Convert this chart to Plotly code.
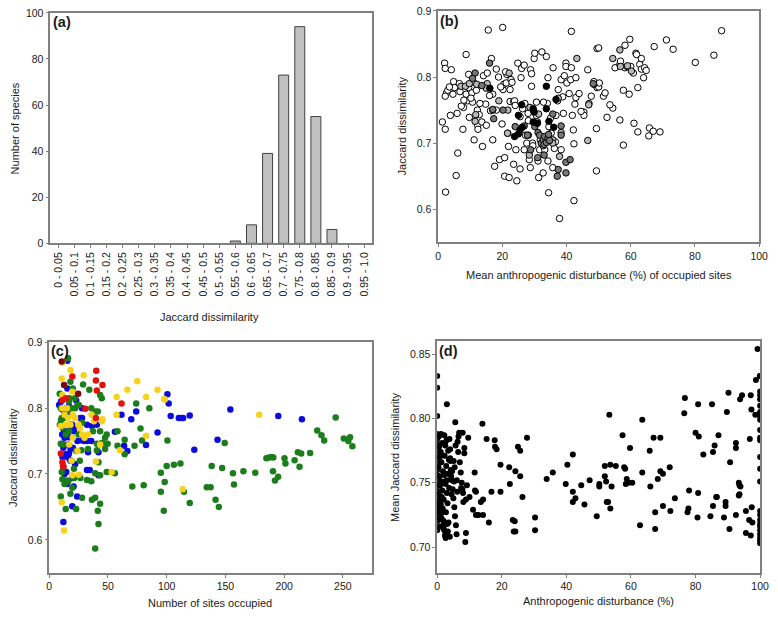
import plotly.graph_objects as go

W, H = 778, 617

# ---------------- Panel (a) data ----------------
bins = ["0 - 0.05", "0.05 - 0.1", "0.1 - 0.15", "0.15 - 0.2", "0.2 - 0.25", "0.25 - 0.3",
        "0.3 - 0.35", "0.35 - 0.4", "0.4 - 0.45", "0.45 - 0.5", "0.5 - 0.55", "0.55 - 0.6",
        "0.6 - 0.65", "0.65 - 0.7", "0.7 - 0.75", "0.75 - 0.8", "0.8 - 0.85", "0.85 - 0.9",
        "0.9 - 0.95", "0.95 - 1.0"]
counts = [0, 0, 0, 0, 0, 0, 0, 0, 0, 0, 0, 1, 8, 39, 73, 94, 55, 6, 0, 0]

# ---------------- Panel (b) data ----------------
b_open_x = [1.3, 2.3, 2.2, 2.0, 2.2, 2.6, 2.2, 4.1, 3.8, 4.8, 4.6, 5.1, 5.6, 5.9, 6.1, 6.6, 7.7, 7.9, 8.7, 8.7,
            9.2, 9.5, 9.5, 9.7, 10.5, 10.7, 11.2, 11.9, 12.2, 12.3, 12.4, 13.8, 13.6, 14.1, 14.8, 15.0, 15.6, 15.3,
            16.3, 16.6, 17.0, 17.0, 17.6, 18.1, 18.1, 19.1, 19.9, 20.1, 20.2, 20.4, 20.7, 20.7, 21.4, 21.2, 21.7,
            21.9, 22.1, 22.4, 22.4, 22.7, 23.5, 23.5, 23.8, 24.0, 24.2, 24.5, 24.8, 25.5, 25.5, 25.8, 26.0, 26.8,
            26.8, 27.0, 27.6, 28.1, 28.4, 28.7, 28.8, 29.1, 29.1, 29.4, 29.9, 30.1, 30.6, 30.6, 30.9, 31.1, 31.3,
            31.6, 32.3, 32.7, 33.7, 34.0, 34.2, 34.2, 34.4, 34.5, 35.2, 35.8, 35.7, 36.2, 36.7, 37.2, 37.4, 37.8,
            38.3, 38.3, 39.3, 39.8, 39.8, 40.1, 40.8, 41.3, 41.5, 41.5, 41.8, 42.1, 42.3, 42.3, 42.6, 42.9, 42.9,
            43.9, 45.4, 45.4, 46.6, 47.7, 48.5, 49.3, 49.3, 49.5, 49.5, 50.0, 50.0, 50.2, 51.5, 52.0, 52.6, 54.4,
            55.1, 56.6, 56.6, 56.8, 57.7, 57.7, 58.2, 58.2, 59.5, 59.7, 60.0, 61.0, 61.6, 61.8, 62.2, 62.2, 62.8,
            63.3, 63.3, 64.0, 64.3, 64.8, 65.8, 65.6, 67.0, 67.3, 69.1, 71.1, 73.2, 80.1, 85.9, 88.3,
            3.0, 6.8, 7.2, 10.2, 11.0, 13.0, 18.8, 19.5, 23.0, 26.3, 27.2, 28.0, 31.8, 32.8, 35.0, 36.5, 38.8,
            39.0, 44.5, 47.0, 53.5, 58.8, 60.8, 3.5, 8.0, 12.8, 16.0, 21.0, 29.5, 33.2]
b_open_y = [0.732, 0.626, 0.721, 0.821, 0.813, 0.776, 0.771, 0.811, 0.742, 0.793, 0.774, 0.784, 0.651, 0.745,
            0.685, 0.790, 0.721, 0.754, 0.834, 0.774, 0.764, 0.804, 0.784, 0.739, 0.776, 0.762, 0.705, 0.780,
            0.750, 0.727, 0.721, 0.695, 0.732, 0.802, 0.759, 0.727, 0.871, 0.806, 0.749, 0.828, 0.774, 0.705,
            0.665, 0.812, 0.750, 0.675, 0.729, 0.875, 0.781, 0.789, 0.650, 0.678, 0.804, 0.791, 0.715, 0.695,
            0.648, 0.763, 0.781, 0.796, 0.763, 0.668, 0.764, 0.757, 0.690, 0.643, 0.821, 0.740, 0.661, 0.799,
            0.813, 0.690, 0.818, 0.760, 0.700, 0.734, 0.675, 0.663, 0.811, 0.786, 0.805, 0.700, 0.828, 0.836,
            0.762, 0.742, 0.732, 0.673, 0.648, 0.690, 0.838, 0.655, 0.831, 0.760, 0.799, 0.673, 0.625, 0.725,
            0.715, 0.814, 0.663, 0.692, 0.742, 0.764, 0.781, 0.586, 0.690, 0.796, 0.802, 0.821, 0.816, 0.791,
            0.775, 0.796, 0.814, 0.869, 0.742, 0.720, 0.699, 0.613, 0.759, 0.769, 0.799, 0.775, 0.747, 0.742,
            0.811, 0.771, 0.793, 0.722, 0.658, 0.843, 0.784, 0.844, 0.785, 0.791, 0.771, 0.776, 0.739, 0.753,
            0.814, 0.735, 0.819, 0.824, 0.780, 0.697, 0.848, 0.814, 0.774, 0.857, 0.816, 0.730, 0.836, 0.834,
            0.717, 0.784, 0.819, 0.828, 0.812, 0.799, 0.814, 0.810, 0.723, 0.711, 0.718, 0.846, 0.717, 0.856,
            0.842, 0.822, 0.833, 0.870,
            0.780, 0.778, 0.756, 0.768, 0.792, 0.760, 0.800, 0.785, 0.792, 0.752, 0.712, 0.745, 0.705, 0.762,
            0.738, 0.702, 0.770, 0.745, 0.748, 0.760, 0.758, 0.816, 0.806, 0.785, 0.765, 0.743, 0.772, 0.808,
            0.696, 0.690]
b_light_x = [7.1, 8.5, 9.7, 12.0, 11.7, 11.5, 15.3, 15.0, 18.9, 17.0, 21.7, 22.1, 21.6, 28.6, 28.1, 28.4, 31.3,
             32.7, 37.8, 38.3, 37.4, 43.2, 46.6, 46.9, 48.5, 54.4, 56.6, 56.8, 59.0, 60.2, 35.7, 35.7]
b_light_y = [0.786, 0.786, 0.790, 0.789, 0.743, 0.733, 0.790, 0.783, 0.764, 0.750, 0.750, 0.806, 0.715, 0.754,
             0.712, 0.682, 0.744, 0.696, 0.680, 0.716, 0.768, 0.828, 0.704, 0.758, 0.789, 0.828, 0.841, 0.816,
             0.817, 0.809, 0.705, 0.700]
b_dark_x = [11.5, 10.7, 13.6, 16.0, 17.0, 17.3, 20.2, 24.0, 26.8, 27.8, 28.8, 30.1, 31.1, 31.6, 32.1, 32.7, 33.0,
            33.2, 33.7, 34.2, 34.4, 34.7, 33.0, 31.0, 35.7, 37.1, 37.4, 38.3, 39.8, 39.8, 41.1, 48.3, 38.3]
b_dark_y = [0.806, 0.798, 0.787, 0.821, 0.751, 0.737, 0.750, 0.725, 0.726, 0.712, 0.690, 0.725, 0.716, 0.712,
            0.700, 0.705, 0.698, 0.710, 0.701, 0.707, 0.713, 0.704, 0.682, 0.678, 0.744, 0.650, 0.660, 0.726,
            0.671, 0.655, 0.675, 0.790, 0.712]
b_black_x = [16.1, 26.0, 25.0, 25.5, 26.2, 23.8, 29.6, 29.9, 29.6, 30.9, 33.7, 33.7, 34.5, 36.0, 36.7, 25.0]
b_black_y = [0.783, 0.758, 0.742, 0.720, 0.724, 0.710, 0.752, 0.747, 0.732, 0.730, 0.786, 0.752, 0.733, 0.724,
             0.766, 0.714]

# ---------------- Panel (c) data ----------------
c_green_x = [16.0, 8.9, 9.8, 10.6, 9.0, 9.8, 10.6, 11.2, 9.8, 14.0, 16.2, 19.6, 21.2, 22.9, 26.5, 27.9, 32.1, 35.8,
             36.3, 39.1, 41.3, 41.9, 43.3, 39.1, 43.3, 41.9, 47.5, 49.7, 44.7, 47.5, 48.9, 43.3, 40.5, 40.5, 39.1,
             37.2, 35.8, 39.1, 41.3, 43.3, 44.7, 34.1, 28.8, 21.8, 25.1, 16.8, 16.8, 27.9, 27.4, 33.0, 48.9, 55.9,
             58.1, 58.1, 64.2, 64.2, 70.7, 72.6, 74.0, 77.7, 79.0, 80.4, 85.2,
             12.0, 13.0, 14.0, 15.0, 17.0, 18.0, 20.0, 22.0, 24.0, 14.0, 17.0, 12.0, 19.0, 23.0, 15.0, 12.0, 18.0,
             13.0, 26.0, 10.0, 11.5, 19.0, 21.0, 25.0,
             100.6, 149.4, 100.0, 106.1, 111.7, 95.0, 98.3, 95.0, 97.5, 114.7, 119.6, 134.1, 137.4, 138.3, 147.2,
             141.6, 144.4, 156.4, 157.3, 165.3, 175.4, 184.9, 187.2, 189.4, 190.8, 190.5, 192.2, 194.9, 200.3,
             201.1, 208.9, 211.7, 214.5, 213.1, 222.1, 243.9, 228.2, 231.8, 234.1, 250.8, 254.7, 256.1, 258.1]
c_green_y = [0.876, 0.822, 0.800, 0.785, 0.775, 0.746, 0.703, 0.692, 0.666, 0.647, 0.689, 0.679, 0.694, 0.647,
             0.694, 0.664, 0.691, 0.689, 0.661, 0.664, 0.644, 0.624, 0.655, 0.587, 0.698, 0.718, 0.738, 0.746,
             0.747, 0.755, 0.760, 0.765, 0.746, 0.736, 0.701, 0.765, 0.800, 0.795, 0.795, 0.820, 0.815, 0.828,
             0.836, 0.815, 0.805, 0.810, 0.800, 0.778, 0.736, 0.738, 0.703, 0.701, 0.765, 0.743, 0.752, 0.730,
             0.681, 0.743, 0.807, 0.769, 0.751, 0.683, 0.800,
             0.785, 0.790, 0.800, 0.795, 0.815, 0.840, 0.830, 0.800, 0.805, 0.760, 0.765, 0.745, 0.720, 0.735,
             0.690, 0.710, 0.670, 0.685, 0.720, 0.782, 0.770, 0.800, 0.708, 0.760,
             0.751, 0.747, 0.712, 0.714, 0.716, 0.702, 0.688, 0.673, 0.644, 0.673, 0.656, 0.680, 0.680, 0.712,
             0.709, 0.661, 0.650, 0.701, 0.684, 0.704, 0.702, 0.724, 0.725, 0.726, 0.725, 0.704, 0.690, 0.696,
             0.724, 0.716, 0.721, 0.733, 0.731, 0.711, 0.732, 0.786, 0.766, 0.759, 0.751, 0.754, 0.750, 0.756,
             0.742]
c_blue_x = [15.4, 15.4, 22.9, 8.4, 16.8, 27.9, 11.2, 12.6, 16.8, 18.2, 19.6, 20.9, 26.5, 27.9, 32.1, 36.3, 40.5,
            27.9, 32.1, 35.8, 33.0, 41.9, 44.7, 16.8, 11.2, 14.5, 19.6, 20.7, 23.7, 19.6, 12.0, 32.1, 34.4, 41.9,
            61.5, 74.0, 69.8, 55.9, 63.7, 66.5, 82.4, 92.2, 11.2,
            10.0, 12.0, 13.0, 15.0, 17.0, 18.0, 11.0, 13.0, 16.0, 19.0, 21.0, 14.0, 16.0, 12.0, 13.0, 15.0, 16.0,
            18.0, 20.0, 22.0, 24.0, 30.0,
            100.6, 101.7, 103.4, 110.3, 112.3, 114.0, 119.6, 154.2, 195.0, 215.1, 143.3, 123.5]
c_blue_y = [0.872, 0.830, 0.812, 0.805, 0.803, 0.800, 0.746, 0.763, 0.731, 0.738, 0.775, 0.768, 0.785, 0.785,
            0.775, 0.773, 0.775, 0.751, 0.750, 0.750, 0.733, 0.733, 0.746, 0.756, 0.726, 0.703, 0.694, 0.681,
            0.666, 0.651, 0.627, 0.706, 0.706, 0.698, 0.790, 0.795, 0.783, 0.764, 0.743, 0.735, 0.744, 0.763,
            0.798,
            0.810, 0.785, 0.790, 0.795, 0.790, 0.775, 0.760, 0.755, 0.765, 0.770, 0.765, 0.730, 0.745, 0.740,
            0.700, 0.685, 0.725, 0.720, 0.740, 0.715, 0.750, 0.750,
            0.821, 0.807, 0.788, 0.785, 0.785, 0.785, 0.789, 0.798, 0.788, 0.783, 0.752, 0.737]
c_yellow_x = [11.2, 18.2, 29.3, 10.6, 11.2, 19.6, 57.3, 74.9, 66.5, 82.4, 92.2, 97.8, 57.3, 60.1, 53.1, 82.4,
              43.3, 39.7, 9.8, 10.6, 12.6, 19.6, 25.1, 44.7, 45.3,
              11.0, 13.0, 14.0, 16.0, 18.0, 20.0, 22.0, 25.0, 26.0, 28.0, 30.0, 33.0, 36.0, 38.0, 17.0, 20.0,
              24.0, 19.0, 15.0, 98.3, 178.8, 113.7]
c_yellow_y = [0.869, 0.858, 0.850, 0.845, 0.820, 0.825, 0.817, 0.841, 0.828, 0.817, 0.828, 0.814, 0.790, 0.736,
              0.703, 0.758, 0.745, 0.719, 0.773, 0.657, 0.614, 0.698, 0.699, 0.780, 0.783,
              0.800, 0.790, 0.775, 0.785, 0.775, 0.790, 0.785, 0.775, 0.770, 0.760, 0.755, 0.760, 0.790, 0.780,
              0.745, 0.755, 0.735, 0.720, 0.800, 0.813, 0.790, 0.677]
c_red_x = [19.6, 30.7, 40.0, 39.7, 40.5, 45.3, 61.5, 39.7, 9.8, 11.2, 11.7, 12.0, 14.0, 11.0]
c_red_y = [0.848, 0.799, 0.857, 0.842, 0.827, 0.835, 0.807, 0.785, 0.731, 0.718, 0.713, 0.711, 0.815, 0.812]
c_dred_x = [10.6, 12.6, 24.6]
c_dred_y = [0.871, 0.835, 0.822]

# ---------------- Panel (d) data ----------------
d_x = [53.3, 63.5, 57.4, 67.0, 69.1, 59.7, 65.8, 42.0, 40.3, 53.6, 55.3, 51.9, 57.9, 58.2, 72.0, 35.8, 33.9, 63.5,
       69.1, 69.9, 39.8, 44.6, 47.2, 50.2, 50.2, 51.9, 52.3, 54.0, 58.7, 59.2, 58.4, 60.4, 66.0, 68.3, 42.0, 42.8,
       42.0, 45.6, 49.4, 52.5, 52.9, 53.6, 62.8, 67.5, 67.5, 69.9, 72.2, 73.6,
       76.7, 76.5, 80.8, 85.1, 90.2, 89.7, 94.4, 93.8, 97.1, 97.3, 98.5, 99.5, 98.7, 99.2, 99.9, 80.0, 81.0,
       87.1, 85.9, 85.4, 82.4, 90.7, 92.5, 92.5, 96.8, 78.0, 80.8, 86.4, 89.3, 89.3, 93.4, 93.6, 93.9, 93.6, 93.4,
       97.4, 95.6, 92.5, 88.8, 84.6, 80.6, 77.8, 77.5, 85.4, 86.6, 95.6, 97.1, 90.5, 96.6, 97.6,
       100, 100, 100, 100, 100, 100, 100, 100, 100, 100, 100, 100, 100, 100, 100, 100, 100, 100, 100, 100, 100,
       100, 100, 100,
       30.3, 30.3,
       0, 0, 0, 3.0, 5.6, 14.0, 7.9, 9.6, 6.6, 15.3, 17.8, 18.4, 17.9, 25.0, 25.7, 27.8, 19.6, 22.3, 24.2, 25.7,
       26.4, 22.5, 19.6, 16.8, 14.2, 13.5, 11.6, 11.7, 12.0, 11.1, 12.0, 12.8, 14.2, 16.0, 23.4, 24.0, 23.7,
       24.2, 8.7, 8.9, 8.4, 8.4, 8.9, 8.1,
       0, 0, 0, 0, 0, 0, 0, 0, 0, 0, 0, 0, 0, 0, 0, 0, 0, 0, 0, 0,
       0.5, 0.6, 0.8, 0.4, 0.7, 0.9, 0.5, 0.6, 0.3, 0.8, 1.0, 1.2, 1.5, 1.1, 1.3, 1.8, 1.4, 1.6, 2.0, 1.7,
       1.2, 1.9, 2.2, 2.5, 2.3, 2.8, 2.1, 2.6, 3.0, 3.2, 2.7, 3.5, 3.3, 3.8, 4.0, 3.6, 4.2, 4.5, 4.8, 5.0,
       5.3, 5.5, 5.8, 6.0, 6.3, 6.5, 7.0, 7.3, 7.6, 8.0, 1.0, 1.5, 2.0, 2.4, 2.9, 3.4, 4.1, 4.6, 5.2, 6.2,
       0.9, 1.3, 1.7, 2.2, 2.6, 3.1, 3.7, 4.3, 5.1, 5.7, 6.8, 7.4, 1.1, 1.6, 2.4, 3.3, 4.4, 0.7, 1.4, 2.9,
       4.0, 5.4, 6.1, 7.8, 9.2, 10.0, 3.9, 2.0, 1.0, 0.6]
d_y = [0.803, 0.799, 0.787, 0.785, 0.785, 0.777, 0.775, 0.772, 0.764, 0.764, 0.763, 0.763, 0.762, 0.761, 0.762,
       0.758, 0.753, 0.758, 0.759, 0.757, 0.749, 0.748, 0.752, 0.749, 0.747, 0.755, 0.751, 0.747, 0.753, 0.750,
       0.749, 0.750, 0.747, 0.753, 0.743, 0.738, 0.735, 0.733, 0.724, 0.735, 0.735, 0.730, 0.717, 0.727, 0.714,
       0.732, 0.728, 0.738,
       0.816, 0.804, 0.811, 0.811, 0.820, 0.805, 0.818, 0.815, 0.818, 0.807, 0.803, 0.803, 0.830, 0.854, 0.833,
       0.789, 0.786, 0.787, 0.779, 0.774, 0.772, 0.766, 0.781, 0.777, 0.784, 0.744, 0.742, 0.739, 0.735, 0.732,
       0.750, 0.748, 0.747, 0.741, 0.740, 0.731, 0.728, 0.725, 0.723, 0.724, 0.723, 0.730, 0.727, 0.732, 0.739,
       0.711, 0.709, 0.714, 0.721, 0.719,
       0.821, 0.818, 0.815, 0.810, 0.805, 0.799, 0.791, 0.785, 0.783, 0.770, 0.761, 0.751, 0.728, 0.725, 0.721,
       0.718, 0.716, 0.713, 0.710, 0.707, 0.705, 0.703, 0.833, 0.804,
       0.723, 0.713,
       0.833, 0.824, 0.802, 0.811, 0.797, 0.796, 0.789, 0.785, 0.786, 0.784, 0.783, 0.776, 0.778, 0.778, 0.775,
       0.785, 0.764, 0.762, 0.759, 0.755, 0.739, 0.749, 0.743, 0.743, 0.737, 0.735, 0.758, 0.744, 0.743, 0.729,
       0.725, 0.725, 0.725, 0.719, 0.721, 0.720, 0.712, 0.712, 0.704, 0.711, 0.777, 0.773, 0.737, 0.735,
       0.788, 0.784, 0.780, 0.776, 0.772, 0.768, 0.764, 0.760, 0.756, 0.752, 0.748, 0.744, 0.740, 0.736, 0.732,
       0.728, 0.724, 0.720, 0.716, 0.713,
       0.786, 0.778, 0.770, 0.762, 0.755, 0.748, 0.741, 0.735, 0.729, 0.722, 0.716, 0.788, 0.781, 0.774, 0.766,
       0.759, 0.751, 0.744, 0.737, 0.730, 0.723, 0.715, 0.787, 0.779, 0.771, 0.763, 0.756, 0.749, 0.742, 0.734,
       0.727, 0.719, 0.712, 0.784, 0.776, 0.768, 0.760, 0.752, 0.745, 0.738, 0.731, 0.724, 0.717, 0.710, 0.782,
       0.774, 0.766, 0.758, 0.750, 0.742, 0.735, 0.727, 0.720, 0.709, 0.783, 0.775, 0.767, 0.759, 0.751, 0.743,
       0.736, 0.728, 0.721, 0.713, 0.707, 0.718, 0.746, 0.755, 0.767, 0.779, 0.789, 0.746, 0.733, 0.727,
       0.780, 0.757, 0.741, 0.726, 0.739, 0.752, 0.769, 0.762, 0.752, 0.745, 0.748, 0.739, 0.708, 0.717, 0.723,
       0.731, 0.742, 0.757, 0.773, 0.744, 0.731, 0.787, 0.782, 0.722, 0.765, 0.758]

FONT = "Liberation Sans, Arial, sans-serif"
AXC = "#808080"
TXT = "#1a1a1a"

fig = go.Figure()

# empty classes draw no bar at all (as in the reference)
bar_heights = [c if c > 0 else None for c in counts]
fig.add_trace(go.Bar(x=bins, y=bar_heights, xaxis="x", yaxis="y",
                     marker=dict(color="#c0c0c0", line=dict(color="#404040", width=1))))

def sc(x, y, xa, ya, fill, line="#000000", lw=0.0, size=6):
    fig.add_trace(go.Scatter(x=x, y=y, xaxis=xa, yaxis=ya, mode="markers",
                             marker=dict(size=size, color=fill, line=dict(color=line, width=lw))))

sc(b_open_x, b_open_y, "x2", "y2", "#ffffff", "#000000", 1, 6.5)
sc(b_light_x, b_light_y, "x2", "y2", "#b8b8b8", "#000000", 1, 6.5)
sc(b_dark_x, b_dark_y, "x2", "y2", "#777777", "#000000", 1, 6.5)
sc(b_black_x, b_black_y, "x2", "y2", "#000000", "#000000", 1, 6.5)

sc(c_blue_x, c_blue_y, "x3", "y3", "#0b0be0", size=6.5)
sc(c_green_x, c_green_y, "x3", "y3", "#1b7d1b", size=6.5)
sc(c_yellow_x, c_yellow_y, "x3", "y3", "#f7d21c", size=6.5)
sc(c_red_x, c_red_y, "x3", "y3", "#e31010", size=6.5)
sc(c_dred_x, c_dred_y, "x3", "y3", "#7a0a0a", size=6.5)

sc(d_x, d_y, "x4", "y4", "#000000", size=6)

def axis(domain, anchor, rng=None, dtick=None, fmt=None, **kw):
    d = dict(domain=domain, anchor=anchor, showline=True, linecolor=AXC, linewidth=1.5, mirror=True,
             ticks="outside", ticklen=3, tickcolor=AXC, showgrid=False, zeroline=False,
             ticklabeloverflow="allow",
             tickfont=dict(family=FONT, size=10.5, color=TXT))
    if rng is not None:
        d["range"] = rng
    if dtick is not None:
        d["dtick"] = dtick
        d["tick0"] = 0
    if fmt is not None:
        d["tickformat"] = fmt
    d.update(kw)
    return d

xa = [48 / W, 375 / W]
xb = [442 / W, 768 / W]
xc = [47 / W, 375 / W]
xd = [441 / W, 769 / W]
ya_ = [1 - 242 / H, 1 - 7 / H]
yb_ = [1 - 241 / H, 1 - 5 / H]
yc_ = [1 - 578 / H, 1 - 343 / H]
yd_ = [1 - 578 / H, 1 - 342 / H]

fig.update_layout(
    width=W, height=H, margin=dict(l=0, r=0, t=0, b=0),
    paper_bgcolor="white", plot_bgcolor="white", showlegend=False, bargap=0.38,
    xaxis=axis(xa, "y", tickangle=-90, type="category"),
    yaxis=axis(ya_, "x", [0, 100], 20),
    xaxis2=axis(xb, "y2", [0, 100], 20),
    yaxis2=axis(yb_, "x2", [0.55, 0.9], 0.1, ".1f"),
    xaxis3=axis(xc, "y3", [0, 275], 50),
    yaxis3=axis(yc_, "x3", [0.55, 0.9], 0.1, ".1f"),
    xaxis4=axis(xd, "y4", [0, 100], 20),
    yaxis4=axis(yd_, "x4", [0.68, 0.86], 0.05, ".2f"),
)

def ann(text, x, y, size=11, angle=0, bold=False, xanchor="center"):
    fig.add_annotation(text=("<b>%s</b>" % text) if bold else text, x=x / W, y=1 - y / H,
                       xref="paper", yref="paper", showarrow=False, textangle=angle,
                       xanchor=xanchor, yanchor="middle",
                       font=dict(family=FONT, size=size, color=TXT))

ann("Number of species", 12, 125, angle=-90)
ann("Jaccard dissimilarity", 210, 317)
ann("Jaccard dissimilarity", 405, 122, angle=-90)
ann("Mean anthropogenic disturbance (%) of occupied sites", 605, 274)
ann("Jaccard dissimilarity", 10, 460, angle=-90)
ann("Number of sites occupied", 210, 609)
ann("Mean Jaccard dissimilarity", 398, 460, angle=-90)
ann("Anthropogenic disturbance (%)", 605, 607)

ann("(a)", 49, 16, size=14.5, bold=True, xanchor="left")
ann("(b)", 442, 15, size=14.5, bold=True, xanchor="left")
ann("(c)", 47, 352, size=14.5, bold=True, xanchor="left")
ann("(d)", 441, 352, size=14.5, bold=True, xanchor="left")

fig.write_html("out.html", config={"displayModeBar": False},
               post_script="document.body.style.margin='0px';document.body.style.overflow='hidden';")
